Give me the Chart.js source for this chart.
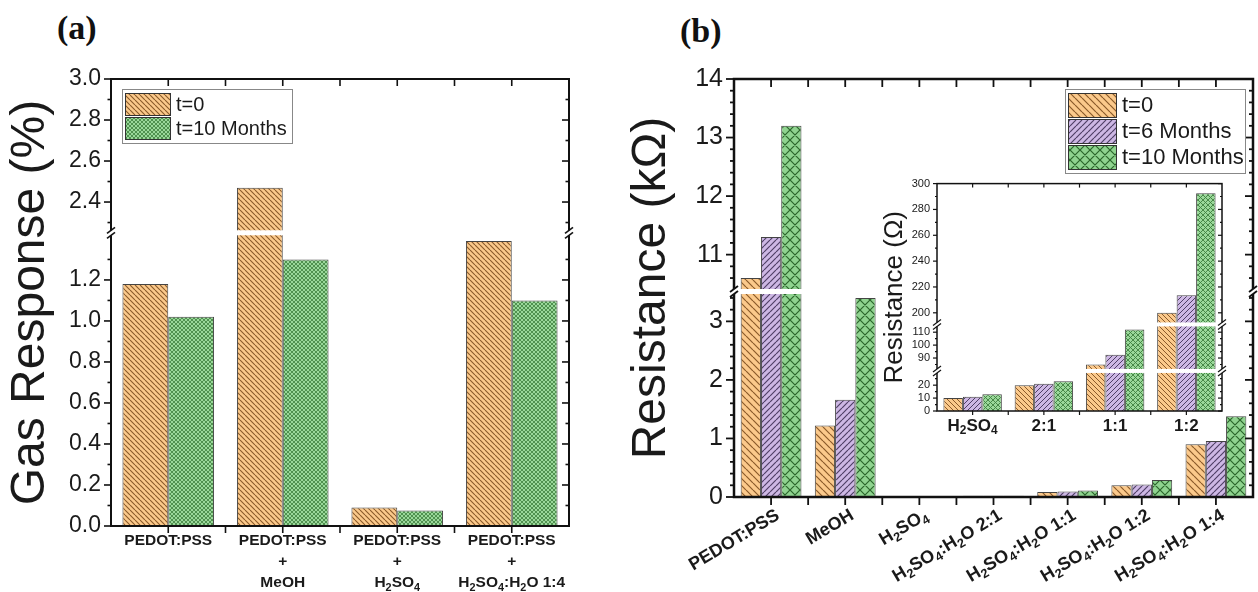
<!DOCTYPE html>
<html>
<head>
<meta charset="utf-8">
<script src="https://cdn.jsdelivr.net/npm/chart.js@4.4.0/dist/chart.umd.min.js"></script>
<style>
  body { margin: 0; background: #fff; width: 1258px; height: 592px; position: relative; overflow: hidden; }
  canvas { position: absolute; }
  .panel { position: absolute; font: bold 34px 'Liberation Serif', 'Times New Roman', serif; color: #111; }
</style>
</head>
<body>
<div class="panel" style="left:57px;top:9px">(a)</div>
<div class="panel" style="left:680px;top:12px">(b)</div>
<canvas id="chartA" width="600" height="592" style="left:0;top:0"></canvas>
<canvas id="chartB" width="638" height="592" style="left:620px;top:0"></canvas>
<canvas id="inset" width="362" height="290" style="left:868px;top:170px"></canvas>
<script>
const FONT = "'Liberation Sans', Arial, sans-serif";
const INK = '#1a1a1a';

// (a) gas response, %   ("_2" = subscript 2)
const aLabels = [['PEDOT:PSS'], ['PEDOT:PSS', '+', 'MeOH'], ['PEDOT:PSS', '+', 'H_2SO_4'], ['PEDOT:PSS', '+', 'H_2SO_4:H_2O 1:4']];
const aT0 = [1.18, 2.47, 0.09, 1.39];
const aT10 = [1.02, 1.30, 0.076, 1.10];
const aTicks = [0, 0.2, 0.4, 0.6, 0.8, 1.0, 1.2, 2.4, 2.6, 2.8, 3.0];
const aSegments = [[0, 1.43], [2.25, 3.0]];

// (b) resistance, kOhm
const bLabels = ['PEDOT:PSS', 'MeOH', 'H_2SO_4', 'H_2SO_4:H_2O 2:1', 'H_2SO_4:H_2O 1:1', 'H_2SO_4:H_2O 1:2', 'H_2SO_4:H_2O 1:4'];
const bT0 = [10.6, 1.22, 0.010, 0.020, 0.085, 0.200, 0.90];
const bT6 = [11.3, 1.66, 0.011, 0.021, 0.093, 0.213, 0.955];
const bT10 = [13.2, 3.40, 0.013, 0.023, 0.112, 0.292, 1.38];
const bTicks = [0, 1, 2, 3, 11, 12, 13, 14];
const bSegments = [[0, 3.51], [10.37, 14]];

// inset, Ohm
const insetLabels = ['H_2SO_4', '2:1', '1:1', '1:2'];
const insetT0 = [10, 20, 85, 200];
const insetT6 = [11, 21, 92.5, 213.5];
const insetT10 = [13, 23, 112, 292.5];
const insetTicks = [0, 10, 20, 90, 100, 110, 200, 220, 240, 260, 280, 300];
const insetSegments = [[0, 31], [80, 116], [191, 300]];

const ORANGE = ['#fbc98b', '#8a5a2a'];
const PURPLE = ['#cdb7e4', '#4f3f66'];
const GREEN = ['#8fd38f', '#2b662b'];
const GREEN_FINE = ['#9ad89a', '#3e7f3e'];

// squeeze a broken axis into one continuous linear scale
function brokenAxis(segments) {
  const starts = [];
  let acc = 0;
  segments.forEach(s => { starts.push(acc); acc += s[1] - s[0]; });
  return {
    segments: segments,
    total: acc,
    breaks: starts.slice(1),
    map: v => {
      for (let i = segments.length - 1; i >= 0; i--) {
        if (v >= segments[i][0]) return starts[i] + Math.min(v, segments[i][1]) - segments[i][0];
      }
      return v;
    }
  };
}

function hatch(ctx, colors, kind, size, lw) {
  const c = document.createElement('canvas');
  c.width = c.height = size;
  const g = c.getContext('2d');
  g.fillStyle = colors[0];
  g.fillRect(0, 0, size, size);
  g.strokeStyle = colors[1];
  g.lineWidth = lw;
  g.beginPath();
  for (let k = -1; k <= 1; k++) {
    if (kind !== 'fwd') { g.moveTo(k * size, 0); g.lineTo(k * size + size, size); }
    if (kind !== 'back') { g.moveTo(k * size, size); g.lineTo(k * size + size, 0); }
  }
  g.stroke();
  return ctx.createPattern(c, 'repeat');
}

// text with "_n" subscripts
function drawRich(ctx, text, x, y, size, align) {
  const parts = text.split(/_(\d)/);
  const fontOf = i => 'bold ' + (i % 2 ? size * 0.7 : size) + 'px ' + FONT;
  let w = 0;
  parts.forEach((p, i) => { ctx.font = fontOf(i); w += ctx.measureText(p).width; });
  let cx = align === 'right' ? x - w : align === 'center' ? x - w / 2 : x;
  parts.forEach((p, i) => {
    ctx.font = fontOf(i);
    ctx.fillText(p, cx, y + (i % 2 ? size * 0.3 : 0));
    cx += ctx.measureText(p).width;
  });
}

function richTicks(o) {
  return {
    id: 'richTicks',
    afterDraw(chart) {
      const { ctx, chartArea: a, scales: { x } } = chart;
      ctx.save();
      ctx.fillStyle = INK;
      ctx.textAlign = 'left';
      ctx.textBaseline = 'middle';
      chart.data.labels.forEach((lab, i) => {
        const px = x.getPixelForValue(i);
        const lines = [].concat(lab);
        if (o.rotate) {
          ctx.save();
          ctx.translate(px + o.dx, a.bottom + o.dy);
          ctx.rotate(-o.rotate * Math.PI / 180);
          drawRich(ctx, lines[0], 0, 0, o.size, 'right');
          ctx.restore();
        } else {
          lines.forEach((t, k) => drawRich(ctx, t, px, a.bottom + o.dy + k * o.lineGap, o.size, 'center'));
        }
      });
      ctx.restore();
    }
  };
}

// frame, mirrored ticks, minor ticks and the break marks
function decor(o) {
  return {
    id: 'decor',
    afterDatasetsDraw(chart) {
      const { ctx, chartArea: a, scales: { x, y } } = chart;
      const line = (x1, y1, x2, y2) => { ctx.beginPath(); ctx.moveTo(x1, y1); ctx.lineTo(x2, y2); ctx.stroke(); };
      ctx.save();
      ctx.strokeStyle = '#111';
      ctx.lineWidth = o.frame;
      ctx.strokeRect(a.left, a.top, a.right - a.left, a.bottom - a.top);
      ctx.lineWidth = o.tickWidth;
      const yTick = (v, len) => {
        const p = y.getPixelForValue(o.axis.map(v));
        line(a.left - len, p, a.left, p);
        line(a.right - len, p, a.right, p);
      };
      o.ticks.forEach(v => yTick(v, o.tickLen));
      o.axis.segments.forEach((s, i) => {
        const step = o.minor[i];
        for (let v = Math.ceil(s[0] / step - 1e-6) * step; v <= s[1] - step * 0.3; v += step) {
          if (o.ticks.some(t => Math.abs(t - v) < 1e-6)) continue;
          if (i > 0 && v - s[0] < step * 0.3) continue;
          yTick(v, o.tickLen / 2);
        }
      });
      const n = chart.data.labels.length;
      for (let i = 0; i < n * 2 - 1; i++) {
        const p = x.getPixelForValue(i / 2);
        line(p, a.bottom, p, a.bottom + o.tickLen);
        line(p, a.top, p, a.top + o.tickLen);
      }
      o.axis.breaks.forEach(d => {
        const p = y.getPixelForValue(d);
        ctx.fillStyle = '#fff';
        ctx.fillRect(a.left - 2, p - o.gap / 2, a.right - a.left + 4, o.gap);
        ctx.lineWidth = o.tickWidth;
        [a.left, a.right].forEach(px => {
          line(px - 4, p - o.gap / 2 + 3, px + 4, p - o.gap / 2 - 3);
          line(px - 4, p + o.gap / 2 + 3, px + 4, p + o.gap / 2 - 3);
        });
      });
      ctx.restore();
    }
  };
}

function boxLegend(o) {
  return {
    id: 'boxLegend',
    afterDraw(chart) {
      const { ctx, chartArea: a } = chart;
      const sets = chart.data.datasets;
      const h = o.pad * 2 + sets.length * o.row;
      const x0 = o.right ? a.right - o.dx - o.width : a.left + o.dx;
      const y0 = a.top + o.dy;
      ctx.save();
      ctx.fillStyle = '#fff';
      ctx.fillRect(x0, y0, o.width, h);
      ctx.strokeStyle = '#888';
      ctx.lineWidth = 1;
      ctx.strokeRect(x0 + 0.5, y0 + 0.5, o.width, h);
      sets.forEach((ds, i) => {
        const sy = y0 + o.pad + i * o.row;
        ctx.fillStyle = ds.backgroundColor;
        ctx.fillRect(x0 + o.pad, sy + 1, o.swatch, o.row - 2);
        ctx.strokeStyle = '#333';
        ctx.strokeRect(x0 + o.pad + 0.5, sy + 1.5, o.swatch, o.row - 2);
        ctx.fillStyle = INK;
        ctx.font = o.font;
        ctx.textBaseline = 'middle';
        ctx.fillText(ds.label, x0 + o.pad + o.swatch + 6, sy + o.row / 2 + 1);
      });
      ctx.restore();
    }
  };
}

function yScale(axis, ticks, fmt, width, fontSize, padding, title) {
  return {
    min: 0,
    max: axis.total,
    grid: { display: false, drawTicks: false },
    border: { display: false },
    afterBuildTicks: s => { s.ticks = ticks.map(v => ({ value: axis.map(v) })); },
    afterFit: s => { s.width = width; },
    ticks: { autoSkip: false, padding: padding, color: INK, font: { family: FONT, size: fontSize }, callback: (v, i) => fmt(ticks[i]) },
    title: title
  };
}

function xScale(height) {
  return {
    grid: { display: false, drawTicks: false },
    border: { display: false },
    ticks: { display: false },
    afterFit: s => { s.height = height; }
  };
}

const aAxis = brokenAxis(aSegments);
const bAxis = brokenAxis(bSegments);
const insetAxis = brokenAxis(insetSegments);

const ctxA = document.getElementById('chartA').getContext('2d');
new Chart(ctxA, {
  type: 'bar',
  data: {
    labels: aLabels,
    datasets: [
      { label: 't=0', data: aT0.map(aAxis.map), backgroundColor: hatch(ctxA, ORANGE, 'back', 5, 1.1) },
      { label: 't=10 Months', data: aT10.map(aAxis.map), backgroundColor: hatch(ctxA, GREEN_FINE, 'cross', 4, 0.8) }
    ]
  },
  options: {
    responsive: false,
    animation: false,
    layout: { padding: { top: 79, right: 31, left: 0, bottom: 0 } },
    datasets: { bar: { barPercentage: 1, categoryPercentage: 0.8, borderColor: '#444', borderWidth: 1 } },
    plugins: { legend: { display: false }, tooltip: { enabled: false } },
    scales: {
      x: xScale(66),
      y: yScale(aAxis, aTicks, v => v.toFixed(1), 111, 23, 10,
        { display: true, text: 'Gas Response (%)', color: INK, padding: { top: 7, bottom: 0 }, font: { family: FONT, size: 48, lineHeight: 1 } })
    }
  },
  plugins: [
    decor({ axis: aAxis, ticks: aTicks, minor: [0.1, 0.1], frame: 2, tickWidth: 1.6, tickLen: 7, gap: 5 }),
    boxLegend({ dx: 11, dy: 10, width: 170, pad: 3, row: 24, swatch: 45, font: '20px ' + FONT }),
    richTicks({ size: 15.5, dy: 15, lineGap: 21 })
  ]
});

const ctxB = document.getElementById('chartB').getContext('2d');
new Chart(ctxB, {
  type: 'bar',
  data: {
    labels: bLabels,
    datasets: [
      { label: 't=0', data: bT0.map(bAxis.map), backgroundColor: hatch(ctxB, ORANGE, 'back', 7, 1.2) },
      { label: 't=6 Months', data: bT6.map(bAxis.map), backgroundColor: hatch(ctxB, PURPLE, 'fwd', 6, 1.2) },
      { label: 't=10 Months', data: bT10.map(bAxis.map), backgroundColor: hatch(ctxB, GREEN, 'cross', 10, 1.2) }
    ]
  },
  options: {
    responsive: false,
    animation: false,
    layout: { padding: { top: 79, right: 5, left: 0, bottom: 0 } },
    datasets: { bar: { barPercentage: 1, categoryPercentage: 0.82, borderColor: '#444', borderWidth: 1 } },
    plugins: { legend: { display: false }, tooltip: { enabled: false } },
    scales: {
      x: xScale(95),
      y: yScale(bAxis, bTicks, v => String(v), 114, 25, 11,
        { display: true, text: 'Resistance (kΩ)', color: INK, padding: { top: 8, bottom: 0 }, font: { family: FONT, size: 48, lineHeight: 1 } })
    }
  },
  plugins: [
    decor({ axis: bAxis, ticks: bTicks, minor: [0.2, 0.2], frame: 2.5, tickWidth: 1.8, tickLen: 8, gap: 5 }),
    boxLegend({ right: true, dx: 8, dy: 10, width: 180, pad: 3, row: 26, swatch: 48, font: '22px ' + FONT }),
    richTicks({ size: 18, rotate: 31, dx: 7, dy: 17 })
  ]
});

const ctxI = document.getElementById('inset').getContext('2d');
new Chart(ctxI, {
  type: 'bar',
  data: {
    labels: insetLabels,
    datasets: [
      { label: 't=0', data: insetT0.map(insetAxis.map), backgroundColor: hatch(ctxI, ORANGE, 'back', 5, 1) },
      { label: 't=6 Months', data: insetT6.map(insetAxis.map), backgroundColor: hatch(ctxI, PURPLE, 'fwd', 5, 1) },
      { label: 't=10 Months', data: insetT10.map(insetAxis.map), backgroundColor: hatch(ctxI, GREEN_FINE, 'cross', 5, 0.9) }
    ]
  },
  options: {
    responsive: false,
    animation: false,
    layout: { padding: { top: 13, right: 8, left: 0, bottom: 0 } },
    datasets: { bar: { barPercentage: 1, categoryPercentage: 0.82, borderColor: '#444', borderWidth: 1 } },
    plugins: { legend: { display: false }, tooltip: { enabled: false } },
    scales: {
      x: xScale(49),
      y: yScale(insetAxis, insetTicks, v => String(v), 69, 11, 7,
        { display: true, text: 'Resistance (Ω)', color: INK, padding: { top: 14, bottom: 0 }, font: { family: FONT, size: 26, lineHeight: 1 } })
    }
  },
  plugins: [
    decor({ axis: insetAxis, ticks: insetTicks, minor: [5, 5, 10], frame: 1.5, tickWidth: 1.2, tickLen: 4, gap: 4 }),
    richTicks({ size: 17, dy: 15, lineGap: 0 })
  ]
});
</script>
</body>
</html>
